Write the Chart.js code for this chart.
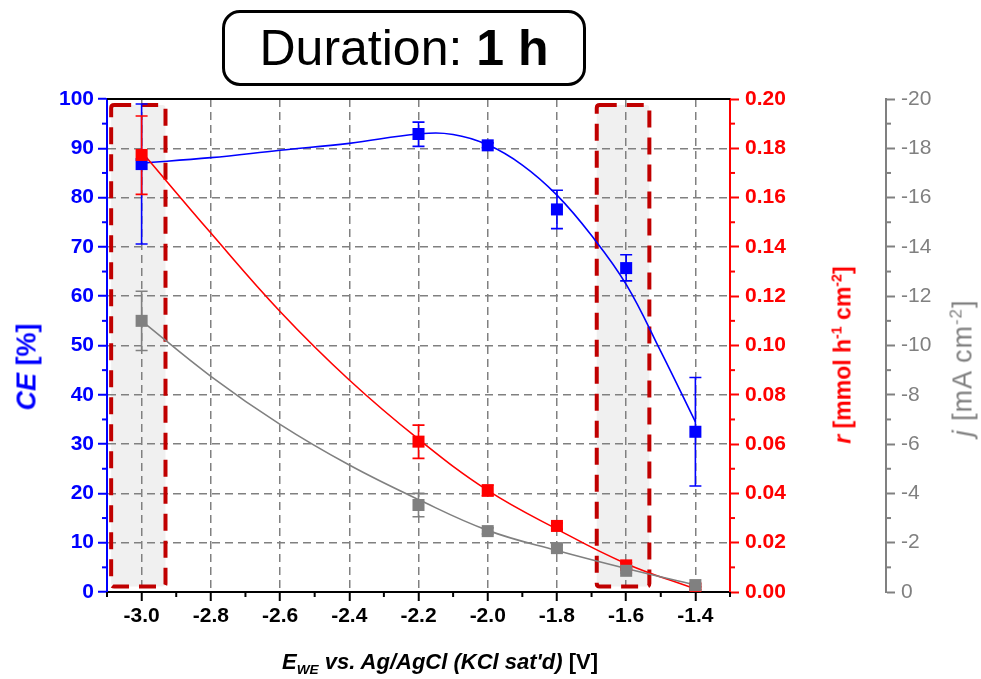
<!DOCTYPE html>
<html>
<head>
<meta charset="utf-8">
<script src="https://cdn.jsdelivr.net/npm/chart.js@4.4.1/dist/chart.umd.min.js"></script>
<style>
  html, body { margin: 0; padding: 0; background: #ffffff; }
  #wrap { position: relative; width: 981px; height: 679px; font-family: "Liberation Sans", Arial, sans-serif; }
  #c { position: absolute; left: 0; top: 0; }
  .abs { position: absolute; white-space: nowrap; }
  .rot { transform: translate(-50%, -50%) rotate(-90deg); }
  .ctr { transform: translate(-50%, -50%); }
  #titlebox { left: 222px; top: 10px; width: 358px; height: 70px; border: 3px solid #000; border-radius: 18px;
              font-size: 50px; line-height: 70px; text-align: center; color: #000; }
  sup, sub { font-size: 62%; line-height: 0; }
</style>
</head>
<body>
<div id="wrap">
  <canvas id="c" width="981" height="679"></canvas>
  <div id="titlebox" class="abs">Duration: <b>1 h</b></div>
  <div class="abs rot" style="left:27px; top:367px; color:#0000ff; font-size:27px; font-weight:bold;"><i>CE</i> [%]</div>
  <div class="abs rot" style="left:843px; top:355px; color:#ff0000; font-size:23px; font-weight:bold;"><i>r</i> [mmol h<sup>-1</sup> cm<sup>-2</sup>]</div>
  <div class="abs rot" style="left:963px; top:368px; color:#808080; font-size:27px; letter-spacing:1px;"><i>j</i> [mA cm<sup>-2</sup>]</div>
  <div class="abs ctr" style="left:440px; top:662px; color:#000; font-size:22px; font-weight:bold;"><i>E<sub>WE</sub> vs. Ag/AgCl (KCl sat'd)</i> [V]</div>
</div>
<script>
// ---------------- data ----------------
const xTicks = [-3.0, -2.8, -2.6, -2.4, -2.2, -2.0, -1.8, -1.6, -1.4];
const ceTicks = [0, 10, 20, 30, 40, 50, 60, 70, 80, 90, 100];
const rTicks = [0, 0.02, 0.04, 0.06, 0.08, 0.10, 0.12, 0.14, 0.16, 0.18, 0.20];
const jTicks = [0, -2, -4, -6, -8, -10, -12, -14, -16, -18, -20];

const potentials = [-3.0, -2.2, -2.0, -1.8, -1.6, -1.4];

const ceValues = [86.8, 92.9, 90.6, 77.6, 65.7, 32.5];
const ceLow    = [70.6, 90.4, 90.1, 73.7, 63.1, 21.5];
const ceHigh   = [99.0, 95.3, 91.1, 81.5, 68.4, 43.5];

const rValues = [0.1773, 0.0610, 0.0412, 0.0268, 0.0108, 0.0015];
const rLow    = [0.1613, 0.0542, 0.0390, 0.0255, 0.0098, 0.0010];
const rHigh   = [0.1931, 0.0677, 0.0434, 0.0280, 0.0118, 0.0020];

const jValues = [-11.0, -3.53, -2.47, -1.78, -0.86, -0.28];
const jLow    = [-12.2, -4.00, -2.60, -1.90, -0.95, -0.33];
const jHigh   = [-9.8, -3.05, -2.35, -1.66, -0.77, -0.23];

// fitted curves
const ceFitX = [-3.0, -2.8, -2.6, -2.4, -2.2, -2.1, -2.0, -1.9, -1.8, -1.7, -1.6, -1.5, -1.4];
const ceFit  = [87.0, 88.1, 89.6, 91.0, 92.9, 92.8, 90.7, 86.6, 80.5, 72.3, 62.4, 48.8, 34.5];
const rFitX = [-3.0, -2.8, -2.6, -2.4, -2.2, -2.0, -1.8, -1.6, -1.4];
const rFit  = [0.1786, 0.1456, 0.1138, 0.0860, 0.0620, 0.0412, 0.0255, 0.0115, 0.0012];
const jFitX = [-3.0, -2.8, -2.6, -2.4, -2.2, -2.0, -1.8, -1.6, -1.4];
const jFit  = [-11.0, -8.75, -6.8, -5.15, -3.75, -2.5, -1.68, -0.95, -0.28];

// highlighted potential windows (x ranges) and their vertical extent on CE scale
const highlightX = [[-3.088, -2.931], [-1.685, -1.533]];
const highlightCE = [1.1, 98.8];

// ---------------- styling ----------------
const BLUE = '#0000ff', RED = '#ff0000', GRAY = '#808080', DARKRED = '#c00000';
const FONT = '"Liberation Sans", Arial, sans-serif';
const TICKSIZE = 21;
const toPts = (xs, ys) => xs.map((x, i) => ({ x: x, y: ys[i] }));

function roundRect(ctx, x, y, w, h, r) {
  ctx.beginPath();
  ctx.moveTo(x + r, y);
  ctx.lineTo(x + w - r, y); ctx.quadraticCurveTo(x + w, y, x + w, y + r);
  ctx.lineTo(x + w, y + h - r); ctx.quadraticCurveTo(x + w, y + h, x + w - r, y + h);
  ctx.lineTo(x + r, y + h); ctx.quadraticCurveTo(x, y + h, x, y + h - r);
  ctx.lineTo(x, y + r); ctx.quadraticCurveTo(x, y, x + r, y);
  ctx.closePath();
}
function boxRect(chart, rng) {
  const xs = chart.scales.x, ys = chart.scales.yCE;
  const x1 = xs.getPixelForValue(rng[0]), x2 = xs.getPixelForValue(rng[1]);
  const y1 = ys.getPixelForValue(highlightCE[1]), y2 = ys.getPixelForValue(highlightCE[0]);
  return [x1, y1, x2 - x1, y2 - y1];
}

const decorPlugin = {
  id: 'decor',
  beforeDraw(chart) {
    const ctx = chart.ctx;
    ctx.save();
    ctx.fillStyle = '#f0f0f0';
    highlightX.forEach(r => { const b = boxRect(chart, r); roundRect(ctx, b[0], b[1], b[2], b[3], 3); ctx.fill(); });
    ctx.restore();
  },
  beforeDatasetsDraw(chart) {
    const ctx = chart.ctx, xs = chart.scales.x;
    ctx.save();
    ctx.strokeStyle = DARKRED; ctx.lineWidth = 4; ctx.setLineDash([17, 10]);
    highlightX.forEach(r => { const b = boxRect(chart, r); roundRect(ctx, b[0], b[1], b[2], b[3], 3); ctx.stroke(); });
    ctx.setLineDash([]);
    const sets = [
      { axis: 'yCE', lo: ceLow, hi: ceHigh, color: BLUE },
      { axis: 'yR', lo: rLow, hi: rHigh, color: RED },
      { axis: 'yJ', lo: jLow, hi: jHigh, color: GRAY }
    ];
    sets.forEach(s => {
      const ys = chart.scales[s.axis];
      ctx.strokeStyle = s.color; ctx.lineWidth = 1.6;
      potentials.forEach((p, i) => {
        const px = xs.getPixelForValue(p);
        const a = ys.getPixelForValue(s.lo[i]), b = ys.getPixelForValue(s.hi[i]);
        ctx.beginPath();
        ctx.moveTo(px, a); ctx.lineTo(px, b);
        ctx.moveTo(px - 6, a); ctx.lineTo(px + 6, a);
        ctx.moveTo(px - 6, b); ctx.lineTo(px + 6, b);
        ctx.stroke();
      });
    });
    ctx.restore();
  },
  afterDraw(chart) {
    const ctx = chart.ctx, ca = chart.chartArea;
    ctx.save();
    ctx.strokeStyle = '#000'; ctx.lineWidth = 2;
    ctx.beginPath(); ctx.moveTo(ca.left, ca.top); ctx.lineTo(ca.right, ca.top); ctx.stroke();
    const minor = (scale, ticks, color, horizontal) => {
      const step = ticks[1] - ticks[0];
      const vals = [];
      for (let i = 0; i < ticks.length - 1; i++) vals.push((ticks[i] + ticks[i + 1]) / 2);
      vals.push(ticks[0] - step / 2, ticks[ticks.length - 1] + step / 2);
      ctx.strokeStyle = color; ctx.lineWidth = 2;
      vals.forEach(v => {
        if (v < Math.min(scale.min, scale.max) - 1e-9 || v > Math.max(scale.min, scale.max) + 1e-9) return;
        const p = scale.getPixelForValue(v);
        ctx.beginPath();
        if (horizontal) { ctx.moveTo(p, scale.top); ctx.lineTo(p, scale.top + 5); }
        else if (scale.position === 'left') { ctx.moveTo(scale.right, p); ctx.lineTo(scale.right - 5, p); }
        else { ctx.moveTo(scale.left, p); ctx.lineTo(scale.left + 5, p); }
        ctx.stroke();
      });
    };
    minor(chart.scales.x, xTicks, '#000', true);
    minor(chart.scales.yCE, ceTicks, BLUE, false);
    minor(chart.scales.yR, rTicks, RED, false);
    minor(chart.scales.yJ, jTicks, GRAY, false);
    ctx.restore();
  }
};

const gridDash = [8, 5];

new Chart(document.getElementById('c'), {
  type: 'line',
  data: {
    datasets: [
      { label: 'j', data: toPts(potentials, jValues), yAxisID: 'yJ', showLine: false, pointStyle: 'rect',
        pointRadius: 8.5, pointBackgroundColor: GRAY, pointBorderWidth: 0, order: 0 },
      { label: 'r', data: toPts(potentials, rValues), yAxisID: 'yR', showLine: false, pointStyle: 'rect',
        pointRadius: 8.5, pointBackgroundColor: RED, pointBorderWidth: 0, order: 1 },
      { label: 'CE', data: toPts(potentials, ceValues), yAxisID: 'yCE', showLine: false, pointStyle: 'rect',
        pointRadius: 8.5, pointBackgroundColor: BLUE, pointBorderWidth: 0, order: 2 },
      { label: 'j fit', data: toPts(jFitX, jFit), yAxisID: 'yJ', borderColor: GRAY, borderWidth: 1.6,
        pointRadius: 0, tension: 0.4, fill: false, order: 3 },
      { label: 'r fit', data: toPts(rFitX, rFit), yAxisID: 'yR', borderColor: RED, borderWidth: 1.6,
        pointRadius: 0, tension: 0.4, fill: false, order: 4 },
      { label: 'CE fit', data: toPts(ceFitX, ceFit), yAxisID: 'yCE', borderColor: BLUE, borderWidth: 1.6,
        pointRadius: 0, tension: 0.4, fill: false, order: 5 }
    ]
  },
  options: {
    responsive: false,
    animation: false,
    events: [],
    layout: { padding: { top: 99, left: 0, right: 0, bottom: 0 } },
    plugins: { legend: { display: false }, tooltip: { enabled: false } },
    scales: {
      x: {
        type: 'linear', position: 'bottom', min: -3.1, max: -1.3,
        afterBuildTicks: s => { s.ticks = xTicks.map(v => ({ value: v })); },
        afterFit: s => { s.height = 87; },
        grid: { display: true, drawOnChartArea: true, color: GRAY, lineWidth: 1.5,
                drawTicks: true, tickLength: 9, tickColor: '#000', tickWidth: 2 },
        border: { display: true, color: '#000', width: 2, dash: gridDash },
        ticks: { autoSkip: false, maxRotation: 0, padding: 3, color: '#000',
                 font: { family: FONT, size: TICKSIZE, weight: 'bold' },
                 callback: v => Number(v).toFixed(1) }
      },
      yCE: {
        type: 'linear', position: 'left', min: 0, max: 100,
        afterBuildTicks: s => { s.ticks = ceTicks.map(v => ({ value: v })); },
        afterFit: s => { s.width = 107; },
        grid: { display: true, drawOnChartArea: true, color: GRAY, lineWidth: 1.5,
                drawTicks: true, tickLength: 9, tickColor: BLUE, tickWidth: 2 },
        border: { display: true, color: BLUE, width: 2, dash: gridDash },
        ticks: { padding: 4, color: BLUE, font: { family: FONT, size: TICKSIZE, weight: 'bold' },
                 callback: v => String(v) }
      },
      yR: {
        type: 'linear', position: 'right', min: 0, max: 0.2,
        afterBuildTicks: s => { s.ticks = rTicks.map(v => ({ value: v })); },
        afterFit: s => { s.width = 156; },
        grid: { display: true, drawOnChartArea: false, color: RED,
                drawTicks: true, tickLength: 9, tickColor: RED, tickWidth: 2 },
        border: { display: true, color: RED, width: 2 },
        ticks: { padding: 6, color: RED, font: { family: FONT, size: TICKSIZE, weight: 'bold' },
                 callback: v => Number(v).toFixed(2) }
      },
      yJ: {
        type: 'linear', position: 'right', min: -20, max: 0, reverse: true,
        afterBuildTicks: s => { s.ticks = jTicks.map(v => ({ value: v })); },
        afterFit: s => { s.width = 95; },
        grid: { display: true, drawOnChartArea: false, color: GRAY,
                drawTicks: true, tickLength: 9, tickColor: GRAY, tickWidth: 2 },
        border: { display: true, color: GRAY, width: 2 },
        ticks: { padding: 6, color: GRAY, font: { family: FONT, size: TICKSIZE, weight: 'normal' },
                 callback: v => String(v) }
      }
    }
  },
  plugins: [decorPlugin]
});
</script>
</body>
</html>
